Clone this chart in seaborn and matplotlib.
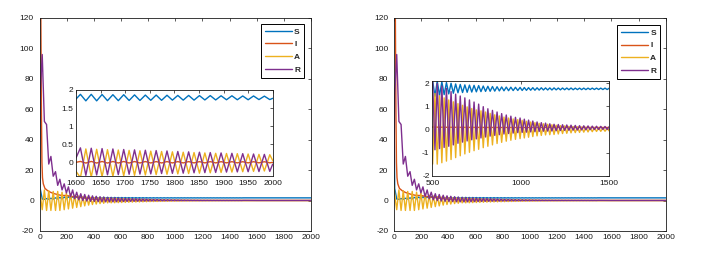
import matplotlib
matplotlib.use("Agg")
import matplotlib.pyplot as plt
from matplotlib.ticker import FormatStrFormatter
import seaborn as sns

sns.set_theme(style="white")
plt.rcParams['font.family'] = ['Liberation Sans', 'DejaVu Sans']

# ---------------- data ----------------
series_names = ["S", "I", "A", "R"]

# main panels: early part (turning points), t = 0 .. 487
t_early = [0, 5, 20, 36, 52, 68, 84, 101, 118, 134, 150, 166, 182, 198, 213, 229, 244,
           259, 274, 289, 304, 319, 333, 348, 362, 376, 390, 404, 418, 432, 446, 460, 473, 487]
S_early = [65, 8, 1.0, 0.8, 1.3, 0.9, 1.5, 1.0, 1.8, 1.1, 2.1, 1.2, 2.3, 1.3, 2.5, 1.3, 2.6,
           1.3, 2.6, 1.3, 2.5, 1.3, 2.4, 1.35, 2.3, 1.35, 2.25, 1.4, 2.2, 1.4, 2.15, 1.4, 2.1, 1.42]
A_early = [10, 4, -6, 7, -6.5, 6.5, -6.5, 6, -6.5, 6, -6.5, 5.5, -6, 5, -5.5, 4.5, -5,
           3.5, -4.5, 3, -4, 2.6, -3.5, 2.3, -3, 2.1, -2.6, 1.9, -2.3, 1.8, -2.0, 1.7, -1.8, 1.6]
R_early = [20, 70, 96, 52, 50, 24, 29, 16, 19, 10, 14, 7, 11, 5, 9, 2.5, 7,
           1.2, 5.5, 0.5, 4.5, 0, 4, -0.3, 3.5, -0.5, 3.1, -0.6, 2.8, -0.7, 2.5, -0.8, 2.3, -0.85]

# middle part (also the right inset), t = 502 .. 1500
t_mid = [502, 515, 528, 541, 554, 567, 580, 593, 606, 619,
         632, 645, 658, 671, 684, 697, 710, 723, 736, 749,
         762, 775, 788, 801, 814, 827, 840, 853, 866, 879,
         892, 905, 918, 931, 944, 957, 970, 983, 996, 1008,
         1020, 1032, 1044, 1056, 1068, 1080, 1092, 1104, 1116, 1128,
         1140, 1152, 1164, 1176, 1188, 1200, 1212, 1224, 1236, 1248,
         1260, 1272, 1284, 1296, 1308, 1320, 1332, 1344, 1356, 1368,
         1380, 1392, 1404, 1416, 1428, 1440, 1452, 1464, 1476, 1488,
         1500]
S_mid = [2.10, 1.43, 2.08, 1.47, 2.05, 1.50, 2.02, 1.53, 1.99, 1.56,
         1.96, 1.58, 1.94, 1.59, 1.92, 1.60, 1.91, 1.61, 1.90, 1.62,
         1.89, 1.63, 1.87, 1.64, 1.86, 1.645, 1.85, 1.65, 1.84, 1.66,
         1.83, 1.665, 1.825, 1.67, 1.82, 1.675, 1.815, 1.68, 1.81, 1.68,
         1.805, 1.685, 1.80, 1.69, 1.80, 1.69, 1.795, 1.695, 1.795, 1.70,
         1.79, 1.70, 1.79, 1.70, 1.79, 1.705, 1.785, 1.705, 1.785, 1.71,
         1.785, 1.71, 1.785, 1.71, 1.78, 1.715, 1.78, 1.715, 1.78, 1.715,
         1.78, 1.72, 1.78, 1.72, 1.78, 1.72, 1.78, 1.72, 1.78, 1.72,
         1.78]
A_mid = [-1.50, 1.55, -1.50, 1.45, -1.44, 1.36, -1.37, 1.27, -1.30, 1.19,
         -1.22, 1.11, -1.14, 1.04, -1.06, 0.97, -0.99, 0.90, -0.92, 0.84,
         -0.86, 0.80, -0.79, 0.75, -0.73, 0.69, -0.67, 0.63, -0.61, 0.58,
         -0.56, 0.53, -0.51, 0.49, -0.47, 0.45, -0.43, 0.42, -0.40, 0.39,
         -0.37, 0.35, -0.34, 0.32, -0.31, 0.29, -0.28, 0.26, -0.26, 0.24,
         -0.24, 0.22, -0.23, 0.20, -0.22, 0.18, -0.20, 0.16, -0.18, 0.15,
         -0.17, 0.13, -0.15, 0.12, -0.14, 0.11, -0.13, 0.10, -0.12, 0.09,
         -0.11, 0.08, -0.10, 0.07, -0.09, 0.06, -0.085, 0.05, -0.08, 0.04,
         -0.07]
R_mid = [2.05, -0.88, 1.98, -0.83, 1.87, -0.78, 1.77, -0.73, 1.63, -0.67,
         1.52, -0.60, 1.44, -0.55, 1.36, -0.50, 1.27, -0.45, 1.18, -0.41,
         1.09, -0.37, 0.98, -0.33, 0.89, -0.29, 0.82, -0.26, 0.75, -0.23,
         0.68, -0.20, 0.62, -0.18, 0.57, -0.16, 0.52, -0.14, 0.49, -0.13,
         0.44, -0.12, 0.40, -0.11, 0.36, -0.10, 0.32, -0.09, 0.29, -0.08,
         0.27, -0.075, 0.24, -0.07, 0.22, -0.06, 0.21, -0.05, 0.20, -0.045,
         0.19, -0.04, 0.18, -0.035, 0.17, -0.03, 0.16, -0.025, 0.155, -0.02,
         0.15, -0.015, 0.14, -0.01, 0.135, -0.005, 0.13, 0.0, 0.125, 0.0,
         0.12]

# late part, t = 1600 .. 2000
t_late = [1600, 2000]
S_late = [1.77, 1.77]
A_late = [-0.01, -0.01]
R_late = [0.05, 0.05]

# infected, main panels
t_I_main = [0, 6, 10, 14, 18, 22, 28, 40, 60, 80, 100, 130, 160, 200, 250, 300, 400, 500, 1000, 2000]
I_main = [130, 128, 120, 60, 25, 15, 11, 8, 6.5, 5.5, 4.8, 4, 3.4, 3.3, 2.5, 2.0, 0.8, 0.15, 0.08, 0.08]

# infected, right inset
t_I_right = [500, 560, 700, 1000, 1500]
I_right = [0.10, 0.09, 0.085, 0.08, 0.08]

# left inset, t = 1600 .. 2000
t_left = [1600, 1609, 1620, 1631, 1642, 1653, 1664, 1675, 1686, 1697, 1708, 1719, 1730,
          1741, 1752, 1763, 1774, 1785, 1796, 1807, 1818, 1829, 1840, 1851, 1862, 1873,
          1884, 1895, 1906, 1917, 1928, 1939, 1950, 1961, 1972, 1983, 1994, 2000]
S_left = [1.75, 1.88, 1.70, 1.88, 1.70, 1.875, 1.705, 1.87, 1.705, 1.87, 1.71, 1.865, 1.71,
          1.86, 1.715, 1.86, 1.715, 1.855, 1.72, 1.85, 1.72, 1.85, 1.72, 1.845, 1.725, 1.845,
          1.725, 1.84, 1.73, 1.84, 1.73, 1.835, 1.73, 1.835, 1.735, 1.83, 1.735, 1.77]
I_left = [0.0, 0.025, -0.02, 0.025, -0.02, 0.024, -0.02, 0.023, -0.019, 0.023, -0.019, 0.022, -0.018,
          0.022, -0.018, 0.021, -0.018, 0.021, -0.017, 0.02, -0.017, 0.02, -0.016, 0.019, -0.016, 0.019,
          -0.016, 0.018, -0.015, 0.018, -0.015, 0.017, -0.015, 0.017, -0.014, 0.016, -0.014, 0.0]
A_left = [-0.25, -0.42, 0.37, -0.41, 0.36, -0.40, 0.35, -0.39, 0.34, -0.375, 0.33, -0.36, 0.32,
          -0.35, 0.31, -0.34, 0.30, -0.33, 0.29, -0.32, 0.28, -0.31, 0.27, -0.30, 0.26, -0.29,
          0.25, -0.28, 0.245, -0.27, 0.24, -0.26, 0.23, -0.25, 0.22, -0.24, 0.21, 0.05]
R_left = [0.12, 0.40, -0.36, 0.39, -0.35, 0.38, -0.345, 0.37, -0.34, 0.355, -0.33, 0.345, -0.325,
          0.335, -0.32, 0.325, -0.31, 0.315, -0.305, 0.30, -0.30, 0.29, -0.29, 0.28, -0.285, 0.27,
          -0.28, 0.26, -0.27, 0.25, -0.265, 0.24, -0.26, 0.23, -0.255, 0.22, -0.25, -0.05]

main_xticks = [0, 200, 400, 600, 800, 1000, 1200, 1400, 1600, 1800, 2000]
main_yticks = [-20, 0, 20, 40, 60, 80, 100, 120]
left_inset_xticks = [1600, 1650, 1700, 1750, 1800, 1850, 1900, 1950, 2000]
left_inset_yticks = [0, 0.5, 1, 1.5, 2]
right_inset_xticks = [500, 1000, 1500]
right_inset_yticks = [-2, -1, 0, 1, 2]

for a, b in [(t_early, S_early), (t_early, A_early), (t_early, R_early),
             (t_mid, S_mid), (t_mid, A_mid), (t_mid, R_mid),
             (t_left, S_left), (t_left, I_left), (t_left, A_left), (t_left, R_left),
             (t_I_main, I_main)]:
    assert len(a) == len(b), (len(a), len(b))

t_main = t_early + t_mid + t_late
S_main = S_early + S_mid + S_late
A_main = A_early + A_mid + A_late
R_main = R_early + R_mid + R_late

COL = {"S": "#0072BD", "I": "#D95319", "A": "#EDB120", "R": "#7E2F8E"}
AXC = "#1a1a1a"
LW = 1.0
FS = 6.0


def draw(ax, curves, label=True):
    for name, (tt, vv) in zip(series_names, curves):
        sns.lineplot(x=tt, y=vv, ax=ax, color=COL[name], linewidth=LW, sort=False,
                     estimator=None, label=name if label else None, legend=False)
    for ln in ax.get_lines():
        ln.set_solid_joinstyle("round")


def style(ax, xlim, ylim, xt, yt, xpad=2.0, ypad=2.0):
    ax.set_xlim(*xlim)
    ax.set_ylim(*ylim)
    ax.set_xticks(xt)
    ax.set_yticks(yt)
    ax.yaxis.set_major_formatter(FormatStrFormatter('%g'))
    ax.tick_params(direction='in', length=2.5, width=0.5, top=True, right=True,
                   labelsize=FS, colors=AXC)
    ax.tick_params(axis='x', pad=xpad)
    ax.tick_params(axis='y', pad=ypad)
    for sp in ax.spines.values():
        sp.set_color(AXC)
        sp.set_linewidth(0.6)
    ax.set_xlabel("")
    ax.set_ylabel("")
    ax.grid(False)


fig = plt.figure(figsize=(7.13, 2.63), dpi=100)
fig.patch.set_facecolor("white")

main_curves = [(t_main, S_main), (t_I_main, I_main), (t_main, A_main), (t_main, R_main)]

panels = [
    dict(main=[0.0554, 0.1217, 0.3808, 0.8099], inset=[0.1066, 0.3319, 0.2759, 0.3259],
         leg=(0.974, 0.972),
         inset_curves=[(t_left, S_left), (t_left, I_left), (t_left, A_left), (t_left, R_left)],
         ixlim=(1600, 2000), iylim=(-0.37, 2), ixt=left_inset_xticks, iyt=left_inset_yticks),
    dict(main=[0.5526, 0.1217, 0.3811, 0.8099], inset=[0.6063, 0.3319, 0.2482, 0.3612],
         leg=(0.979, 0.967),
         inset_curves=[(t_mid, S_mid), (t_I_right, I_right), (t_mid, A_mid), (t_mid, R_mid)],
         ixlim=(500, 1500), iylim=(-2, 2.1), ixt=right_inset_xticks, iyt=right_inset_yticks),
]

for p in panels:
    ax = fig.add_axes(p["main"])
    ax.set_facecolor("white")
    draw(ax, main_curves, label=True)
    style(ax, (0, 2000), (-20, 120), main_xticks, main_yticks, xpad=2.5, ypad=4.0)
    leg = ax.legend(loc="upper right", bbox_to_anchor=p["leg"], fontsize=FS,
                    frameon=True, fancybox=False, edgecolor="black", framealpha=1,
                    handlelength=3.2, handletextpad=0.3, labelspacing=0.6,
                    borderpad=0.45, borderaxespad=0.0)
    leg.get_frame().set_linewidth(0.7)
    for txt in leg.get_texts():
        txt.set_fontweight("bold")

    iax = fig.add_axes(p["inset"])
    iax.set_facecolor("white")
    draw(iax, p["inset_curves"], label=False)
    style(iax, p["ixlim"], p["iylim"], p["ixt"], p["iyt"], xpad=3.0, ypad=2.0)

fig.savefig("out.png", dpi=100, facecolor="white")
